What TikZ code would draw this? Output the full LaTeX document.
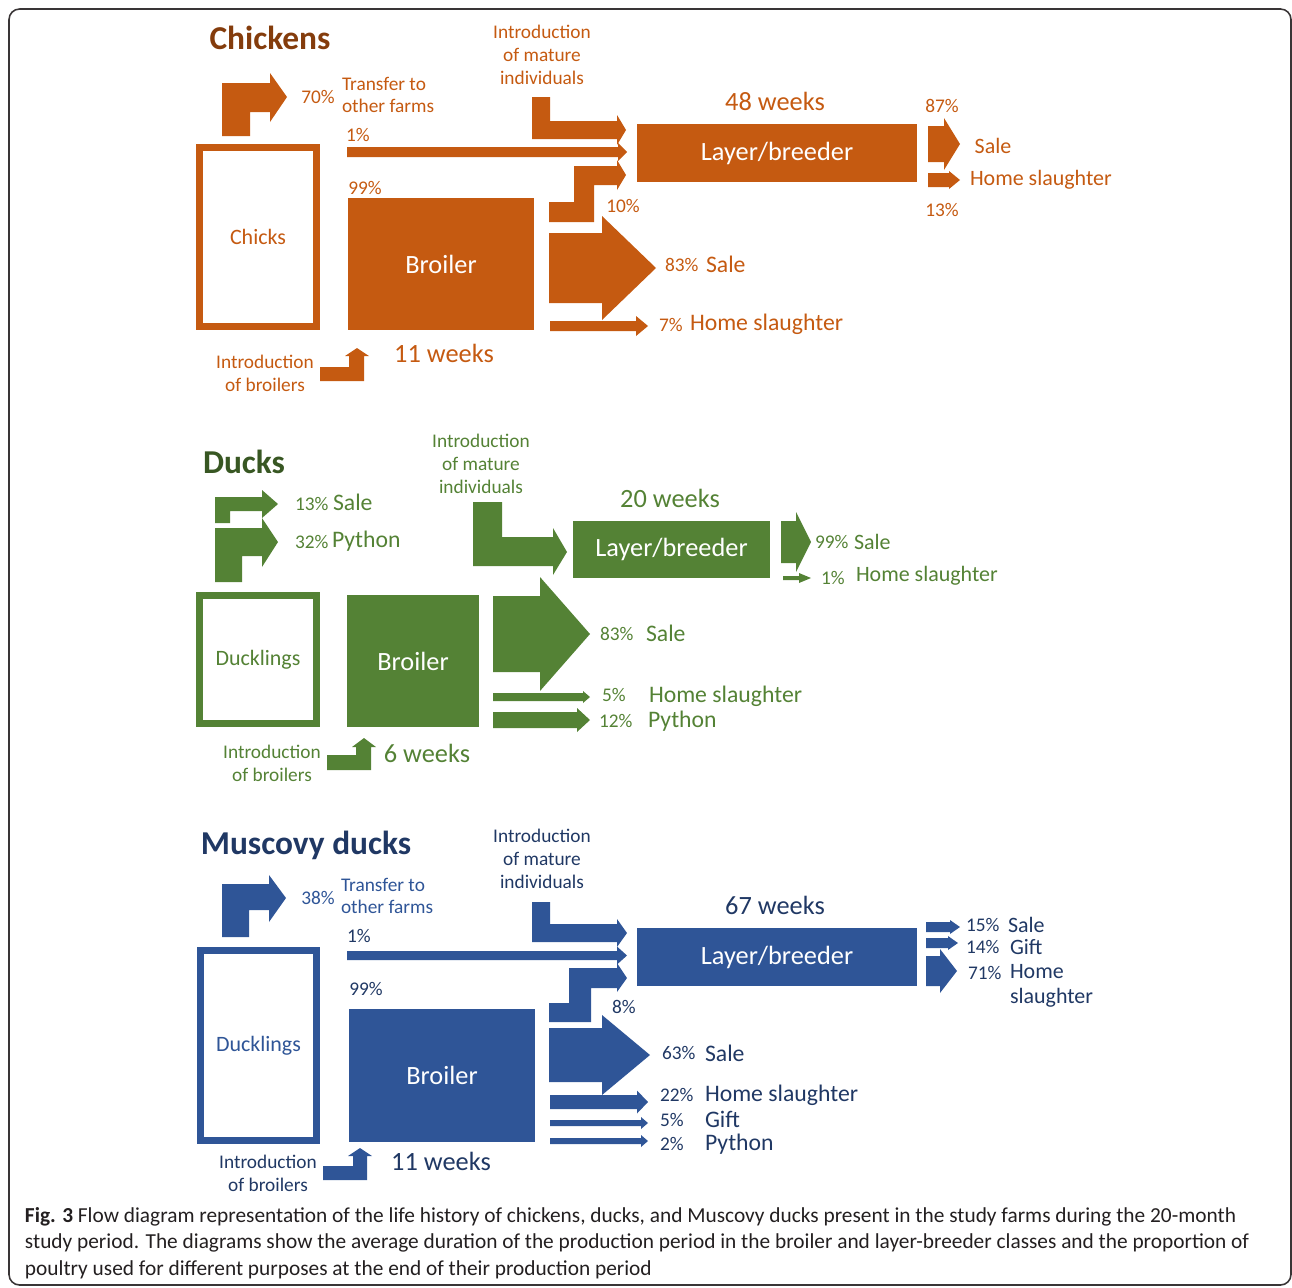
\documentclass[tikz,border=0pt]{standalone}
\usepackage{fontspec}
\setmainfont{Carlito}
\usepackage{xcolor}
\definecolor{chkfill}{HTML}{C55A11}
\definecolor{chktitle}{HTML}{843C0C}
\definecolor{dckfill}{HTML}{548235}
\definecolor{dcktitle}{HTML}{385723}
\definecolor{mscfill}{HTML}{2F5597}
\definecolor{msctitle}{HTML}{203864}
\definecolor{captext}{HTML}{231F20}
\RequirePackage{tikz}

\tikzset{
	lbl/.style={inner sep=0pt, outer sep=0pt},
	pct/.style={lbl, font=\fontsize{11}{13}\selectfont},
	note/.style={lbl, align=center, font=\fontsize{11}{13}\selectfont},
	usage/.style={lbl, font=\fontsize{13.5}{16}\selectfont},
	usagesmall/.style={lbl, font=\fontsize{12.5}{14.5}\selectfont},
	weeks/.style={lbl, font=\fontsize{15}{18}\selectfont},
	animal/.style={lbl, font=\fontsize{19}{22}\selectfont\bfseries},
	solidbox/.style={fill=#1, text=white, inner sep=0pt, outer sep=0pt, font=\fontsize{15}{18}\selectfont},
	hollowbox/.style={draw=#1, line width=0.14cm, fill=white, inner sep=0pt, outer sep=0pt, font=\fontsize{12.5}{15}\selectfont},
}

\newcommand{\flowarrow}[7]{\fill[#1] (#2,#5-#6) -- (#3,#5-#6) -- (#3,#5-#7) -- (#4,#5) -- (#3,#5+#7) -- (#3,#5+#6) -- (#2,#5+#6) -- cycle;}

\begin{document}
\begin{tikzpicture}[x=0.02cm, y=-0.02cm]
	\useasboundingbox (0,0) rectangle (1292,1288);
	\draw[captext!90, line width=0.9pt, rounded corners=6pt] (9,9) rectangle (1291,1285);

	\begin{scope}[text=chkfill]
		\node[animal, text=chktitle] (chk-title) at (270,38) {Chickens};
		\node[hollowbox=chkfill, minimum width=2.34cm, minimum height=3.58cm] (chk-chicks) at (258,237) {Chicks};
		\node[solidbox=chkfill, minimum width=3.72cm, minimum height=2.64cm] (chk-broiler) at (441,264) {Broiler};
		\node[solidbox=chkfill, minimum width=5.6cm, minimum height=1.16cm] (chk-layer) at (777,153) {Layer/breeder};
		\node[note] (chk-intro) at (542,55) {Introduction\\of mature\\individuals};
		\node[pct] (chk-p70) at (318,97) {70\%};
		\node[note, align=left, anchor=west] (chk-transfer) at (342,95) {Transfer to\\other farms};
		\node[pct] (chk-p1) at (358,135) {1\%};
		\node[pct] (chk-p99) at (365,188) {99\%};
		\node[pct] (chk-p10) at (623,206) {10\%};
		\node[weeks] (chk-lweeks) at (775,101) {48 weeks};
		\node[pct] (chk-p87) at (942,106) {87\%};
		\node[usagesmall] (chk-lsale) at (993,146) {Sale};
		\node[usagesmall, anchor=west] (chk-lhome) at (970,180) {Home slaughter};
		\node[pct] (chk-p13) at (942,210) {13\%};
		\node[pct, anchor=west] (chk-p83) at (665,265) {83\%};
		\node[usage, anchor=west] (chk-bsale) at (706,264) {Sale};
		\node[pct, anchor=west] (chk-p7) at (659,325) {7\%};
		\node[usage, anchor=west] (chk-bhome) at (690,324) {Home slaughter};
		\node[weeks] (chk-bweeks) at (444,353) {11 weeks};
		\node[note] (chk-intro-broil) at (265,373) {Introduction\\of broilers};
		\fill[chkfill] (222,136) -- (222,83) -- (270,83) -- (270,73) -- (287,97) -- (270,122) -- (270,112) -- (250,112) -- (250,136) -- cycle;
		\fill[chkfill] (532,97) -- (550,97) -- (550,121) -- (617,121) -- (617,115) -- (626,130) -- (617,145) -- (617,139) -- (532,139) -- cycle;
		\fill[chkfill] (549,222) -- (549,202) -- (574,202) -- (574,166) -- (617,166) -- (617,160) -- (626,175) -- (617,190) -- (617,185) -- (594,185) -- (594,222) -- cycle;
		\fill[chkfill] (320,381) -- (320,367) -- (349,367) -- (349,356) -- (345,356) -- (357,348) -- (369,356) -- (364,356) -- (364,381) -- cycle;
		\flowarrow{chkfill}{347}{618}{627}{152}{5}{9}
		\flowarrow{chkfill}{549}{602}{656}{268}{35}{52}
		\flowarrow{chkfill}{550}{636}{648}{326}{5}{10}
		\flowarrow{chkfill}{928}{944}{960}{144}{18}{26}
		\flowarrow{chkfill}{928}{949}{960}{180}{7}{9}
	\end{scope}

	\begin{scope}[text=dckfill]
		\node[animal, text=dcktitle] (dck-title) at (244,462) {Ducks};
		\node[hollowbox=dckfill, minimum width=2.34cm, minimum height=2.56cm] (dck-ducklings) at (258,659.5) {Ducklings};
		\node[solidbox=dckfill, minimum width=2.64cm, minimum height=2.64cm] (dck-broiler) at (413,661) {Broiler};
		\node[solidbox=dckfill, minimum width=3.94cm, minimum height=1.14cm] (dck-layer) at (671.5,549.5) {Layer/breeder};
		\node[note] (dck-intro) at (481,464) {Introduction\\of mature\\individuals};
		\node[pct, anchor=west] (dck-p13) at (295,504) {13\%};
		\node[usage, anchor=west] (dck-tsale) at (333,502) {Sale};
		\node[pct, anchor=west] (dck-p32) at (295,542) {32\%};
		\node[usage, anchor=west] (dck-tpython) at (332,541) {Python};
		\node[weeks] (dck-lweeks) at (670,498) {20 weeks};
		\node[pct, anchor=west] (dck-p99) at (815,542) {99\%};
		\node[usagesmall, anchor=west] (dck-lsale) at (854,542) {Sale};
		\node[pct, anchor=west] (dck-p1) at (821,578) {1\%};
		\node[usagesmall, anchor=west] (dck-lhome) at (856,576) {Home slaughter};
		\node[pct, anchor=west] (dck-p83) at (600,634) {83\%};
		\node[usage, anchor=west] (dck-bsale) at (646,633) {Sale};
		\node[pct, anchor=west] (dck-p5) at (602,695) {5\%};
		\node[usage, anchor=west] (dck-bhome) at (649,696) {Home slaughter};
		\node[pct, anchor=west] (dck-p12) at (599,721) {12\%};
		\node[usage, anchor=west] (dck-bpython) at (648,721) {Python};
		\node[weeks] (dck-bweeks) at (427,753) {6 weeks};
		\node[note] (dck-intro-broil) at (272,763) {Introduction\\of broilers};
		\fill[dckfill] (215,523) -- (215,497) -- (262,497) -- (262,490) -- (278,504) -- (262,518) -- (262,511) -- (230,511) -- (230,523) -- cycle;
		\fill[dckfill] (215,582) -- (215,528) -- (262,528) -- (262,518) -- (278,542) -- (262,567) -- (262,556) -- (242,556) -- (242,582) -- cycle;
		\fill[dckfill] (473,502) -- (502,502) -- (502,537) -- (553,537) -- (553,528) -- (567,552) -- (553,575) -- (553,566) -- (473,566) -- cycle;
		\fill[dckfill] (327,770) -- (327,755) -- (356,755) -- (356,747) -- (352,747) -- (364,738) -- (376,747) -- (371,747) -- (371,770) -- cycle;
		\flowarrow{dckfill}{493}{540}{590}{634}{38}{57}
		\flowarrow{dckfill}{493}{583}{590}{697}{4}{6}
		\flowarrow{dckfill}{493}{577}{590}{720}{8}{12}
		\flowarrow{dckfill}{781}{796}{811}{542}{21}{30}
		\flowarrow{dckfill}{783}{799}{811}{578}{2}{5}
	\end{scope}

	\begin{scope}[text=msctitle]
		\node[animal] (msc-title) at (306,845) {Muscovy ducks};
		\node[hollowbox=mscfill, text=mscfill, minimum width=2.32cm, minimum height=3.8cm] (msc-ducklings) at (258.5,1045.5) {Ducklings};
		\node[solidbox=mscfill, minimum width=3.72cm, minimum height=2.66cm] (msc-broiler) at (442,1075.5) {Broiler};
		\node[solidbox=mscfill, minimum width=5.6cm, minimum height=1.16cm] (msc-layer) at (777,957) {Layer/breeder};
		\node[note] (msc-intro) at (542,859) {Introduction\\of mature\\individuals};
		\node[pct, text=mscfill] (msc-p38) at (318,898) {38\%};
		\node[note, align=left, anchor=west, text=mscfill] (msc-transfer) at (341,896) {Transfer to\\other farms};
		\node[pct] (msc-p1) at (359,936) {1\%};
		\node[pct] (msc-p99) at (366,989) {99\%};
		\node[pct] (msc-p8) at (624,1007) {8\%};
		\node[weeks] (msc-lweeks) at (775,905) {67 weeks};
		\node[pct, anchor=west] (msc-p15) at (966,925) {15\%};
		\node[usagesmall, anchor=west] (msc-lsale) at (1008,925) {Sale};
		\node[pct, anchor=west] (msc-p14) at (966,947) {14\%};
		\node[usagesmall, anchor=west] (msc-lgift) at (1010,947) {Gift};
		\node[pct, anchor=west] (msc-p71) at (968,973) {71\%};
		\node[usagesmall, anchor=west, align=left] (msc-lhome) at (1010,986) {Home\\slaughter};
		\node[pct, anchor=west] (msc-p63) at (662,1053) {63\%};
		\node[usage, anchor=west] (msc-bsale) at (705,1053) {Sale};
		\node[pct, anchor=west] (msc-p22) at (660,1095) {22\%};
		\node[usage, anchor=west] (msc-bhome) at (705,1095) {Home slaughter};
		\node[pct, anchor=west] (msc-p5) at (660,1120) {5\%};
		\node[usage, anchor=west] (msc-bgift) at (705,1119) {Gift};
		\node[pct, anchor=west] (msc-p2) at (660,1144) {2\%};
		\node[usage, anchor=west] (msc-bpython) at (705,1144) {Python};
		\node[weeks] (msc-bweeks) at (441,1161) {11 weeks};
		\node[note] (msc-intro-broil) at (268,1173) {Introduction\\of broilers};
		\fill[mscfill] (222,937) -- (222,884) -- (269,884) -- (269,875) -- (286,898) -- (269,922) -- (269,910) -- (249,910) -- (249,937) -- cycle;
		\fill[mscfill] (532,902) -- (550,902) -- (550,924) -- (617,924) -- (617,919) -- (627,933) -- (617,947) -- (617,942) -- (532,942) -- cycle;
		\fill[mscfill] (549,1022) -- (549,1003) -- (569,1003) -- (569,968) -- (617,968) -- (617,963) -- (627,978) -- (617,992) -- (617,988) -- (591,988) -- (591,1022) -- cycle;
		\fill[mscfill] (323,1180) -- (323,1166) -- (353,1166) -- (353,1156) -- (348,1156) -- (360,1148) -- (372,1156) -- (367,1156) -- (367,1180) -- cycle;
		\flowarrow{mscfill}{347}{617}{627}{955.5}{4.5}{9}
		\flowarrow{mscfill}{549}{602}{650}{1055}{27}{40}
		\flowarrow{mscfill}{550}{637}{648}{1102}{7}{11.5}
		\flowarrow{mscfill}{550}{641}{648}{1123}{3}{6}
		\flowarrow{mscfill}{550}{641}{648}{1141}{3}{6}
		\flowarrow{mscfill}{926}{950}{960}{927}{5}{7}
		\flowarrow{mscfill}{926}{948}{958}{943}{5}{7}
		\flowarrow{mscfill}{926}{940}{957}{971}{15}{22}
	\end{scope}

	\begin{scope}[text=captext, every node/.style={lbl, anchor=base west, font=\fontsize{12.15}{14}\selectfont}]
		\node (cap-1) at (25,1222) {\textbf{Fig. 3} Flow diagram representation of the life history of chickens, ducks, and Muscovy ducks present in the study farms during the 20-month};
		\node (cap-2) at (25,1248) {study period. The diagrams show the average duration of the production period in the broiler and layer-breeder classes and the proportion of};
		\node (cap-3) at (25,1275) {poultry used for different purposes at the end of their production period};
	\end{scope}
\end{tikzpicture}
\end{document}
